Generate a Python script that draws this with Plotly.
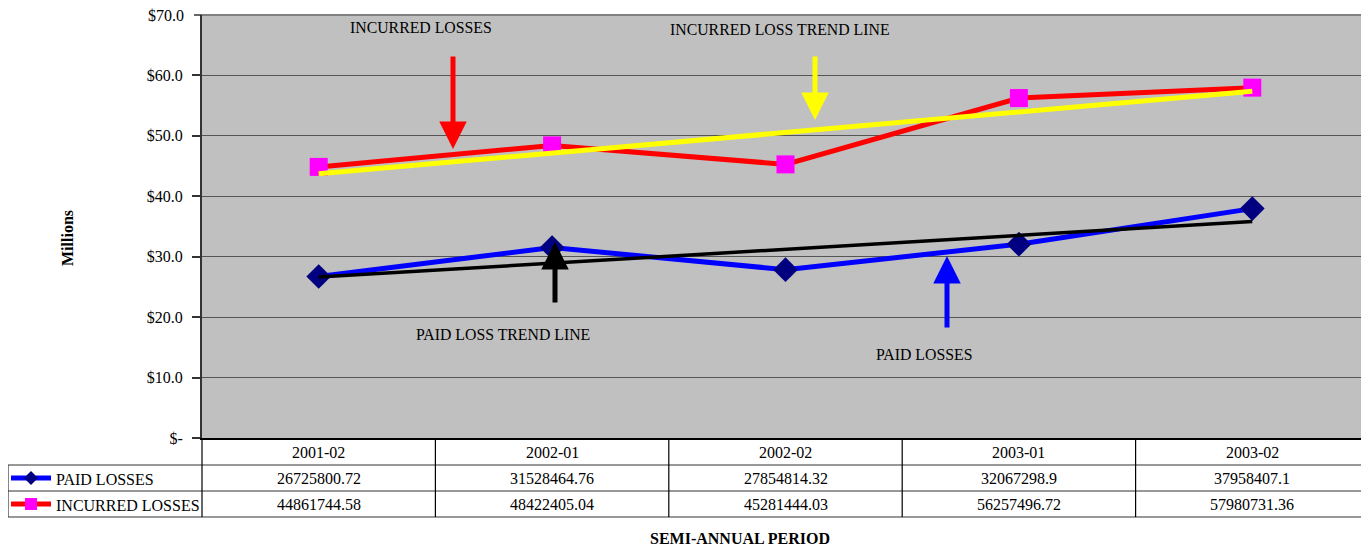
import numpy as np
import plotly.graph_objects as go

categories = ["2001-02", "2002-01", "2002-02", "2003-01", "2003-02"]
paid_losses = [26725800.72, 31528464.76, 27854814.32, 32067298.9, 37958407.1]
incurred_losses = [44861744.58, 48422405.04, 45281444.03, 56257496.72, 57980731.36]
tick_vals = [0, 10, 20, 30, 40, 50, 60, 70]
tick_text = ["$-", "$10.0", "$20.0", "$30.0", "$40.0", "$50.0", "$60.0", "$70.0"]

# page body margin offsets the figure by 8px
OFF = 8
W, H = 1369 - OFF, 548 - OFF
L, T = 202, 15  # plot area in screen coordinates
PW, PH = 1167, 423
FONT = "Liberation Serif"

xs = np.arange(1, len(categories) + 1)
paid_m = np.array(paid_losses) / 1e6
inc_m = np.array(incurred_losses) / 1e6
paid_fit = np.polyval(np.polyfit(xs, paid_m, 1), xs)
inc_fit = np.polyval(np.polyfit(xs, inc_m, 1), xs)


def px_x(px):
    return (px - L) / PW


def px_y(py):
    return (T + PH - py) / PH


fig = go.Figure()
fig.add_trace(go.Scatter(x=xs, y=paid_m, mode="lines+markers", name="PAID LOSSES",
                         line=dict(color="#0000FF", width=5),
                         marker=dict(symbol="diamond", size=19, color="#000080")))
fig.add_trace(go.Scatter(x=xs, y=inc_m, mode="lines+markers", name="INCURRED LOSSES",
                         line=dict(color="#FF0000", width=5),
                         marker=dict(symbol="square", size=18, color="#FF00FF")))
fig.add_trace(go.Scatter(x=xs, y=paid_fit, mode="lines", name="PAID LOSS TREND LINE",
                         line=dict(color="#000000", width=3.5)))
fig.add_trace(go.Scatter(x=xs, y=inc_fit, mode="lines", name="INCURRED LOSS TREND LINE",
                         line=dict(color="#FFFF00", width=5)))

shapes = []
annotations = []
grid_col = "#333333"

# table lines
for yy in [465, 491, 517]:
    shapes.append(dict(type="line", xref="paper", yref="paper", x0=px_x(8), x1=1,
                       y0=px_y(yy), y1=px_y(yy), line=dict(color=grid_col, width=1.2)))
for k in range(len(categories) + 1):
    xk = k / len(categories)
    shapes.append(dict(type="line", xref="paper", yref="paper", x0=xk, x1=xk,
                       y0=px_y(438), y1=px_y(517), line=dict(color="#000000", width=1.2)))
shapes.append(dict(type="line", xref="paper", yref="paper", x0=px_x(8), x1=px_x(8),
                   y0=px_y(465), y1=px_y(517), line=dict(color=grid_col, width=1.2)))
# top border of plot area and top tick
shapes.append(dict(type="line", xref="paper", yref="paper", x0=0, x1=1, y0=1, y1=1,
                   line=dict(color="#808080", width=2)))
shapes.append(dict(type="line", xref="paper", yref="paper", x0=px_x(194), x1=0, y0=1, y1=1,
                   line=dict(color="#333333", width=1.5)))

# legend keys in table
for row_y, lc, mc, sym in [(478, "#0000FF", "#000080", "diamond"), (504, "#FF0000", "#FF00FF", "square")]:
    shapes.append(dict(type="line", xref="paper", yref="paper", x0=px_x(11), x1=px_x(51),
                       y0=px_y(row_y), y1=px_y(row_y), line=dict(color=lc, width=5)))
    if sym == "diamond":
        path = "M 0 -7 L 7 0 L 0 7 L -7 0 Z"
    else:
        path = "M -6 -6 L 6 -6 L 6 6 L -6 6 Z"
    shapes.append(dict(type="path", xref="paper", yref="paper", xsizemode="pixel",
                       ysizemode="pixel", xanchor=px_x(31), yanchor=px_y(row_y), path=path,
                       fillcolor=mc, line=dict(color=mc, width=0)))

table_font = dict(family=FONT, size=16, color="#000000")
for i, c in enumerate(categories):
    annotations.append(dict(x=xs[i], y=px_y(452), xref="x", yref="paper", text=c,
                            xanchor="center", yanchor="middle", showarrow=False, font=table_font))
    annotations.append(dict(x=xs[i], y=px_y(478.5), xref="x", yref="paper",
                            text=str(paid_losses[i]), xanchor="center", yanchor="middle",
                            showarrow=False, font=table_font))
    annotations.append(dict(x=xs[i], y=px_y(504.5), xref="x", yref="paper",
                            text=str(incurred_losses[i]), xanchor="center", yanchor="middle",
                            showarrow=False, font=table_font))
annotations.append(dict(x=px_x(54), y=px_y(479), xref="paper", yref="paper", text="PAID LOSSES",
                        xanchor="left", yanchor="middle", showarrow=False, font=table_font))
annotations.append(dict(x=px_x(54), y=px_y(505), xref="paper", yref="paper",
                        text="INCURRED LOSSES", xanchor="left", yanchor="middle",
                        showarrow=False, font=table_font))

# top tick label (would be clipped as an axis label at the figure edge)
annotations.append(dict(x=px_x(186), y=1, xref="paper", yref="paper", text=tick_text[-1],
                        xanchor="right", yanchor="middle", showarrow=False,
                        font=dict(family=FONT, size=16, color="#000000")))

# titles
annotations.append(dict(x=px_x(740), y=px_y(538), xref="paper", yref="paper",
                        text="<b>SEMI-ANNUAL PERIOD</b>", xanchor="center", yanchor="middle",
                        showarrow=False, font=dict(family=FONT, size=16, color="#000000")))
annotations.append(dict(x=px_x(67), y=px_y(238), xref="paper", yref="paper",
                        text="<b>Millions</b>", textangle=-90, xanchor="center",
                        yanchor="middle", showarrow=False,
                        font=dict(family=FONT, size=16, color="#000000")))


def dx(px):
    return 0.5 + (px - L) / (PW / len(categories))


def dy(py):
    return (T + PH - py) / PH * 70


label_font = dict(family=FONT, size=15.8, color="#000000")
for text, cx, cy in [("INCURRED LOSSES", 421, 27), ("INCURRED LOSS TREND LINE", 780, 29),
                     ("PAID LOSS TREND LINE", 503, 334), ("PAID LOSSES", 924, 354)]:
    annotations.append(dict(x=dx(cx), y=dy(cy), xref="x", yref="y", text=text,
                            xanchor="center", yanchor="middle", showarrow=False, font=label_font))

for col, tx, tip, tail in [("#FF0000", 453, 149, 55), ("#FFFF00", 815, 120, 55),
                           ("#000000", 555, 242, 304), ("#0000FF", 947, 256, 329)]:
    annotations.append(dict(x=dx(tx), y=dy(tip), xref="x", yref="y", text="",
                            showarrow=True, ax=0, ay=tail - tip, arrowhead=2,
                            arrowsize=1.1, arrowwidth=5, arrowcolor=col, standoff=0))

fig.update_layout(
    width=W, height=H,
    margin=dict(l=L - OFF, r=W - (L - OFF) - PW, t=T - OFF, b=H - (T - OFF) - PH),
    paper_bgcolor="#FFFFFF", plot_bgcolor="#C0C0C0",
    showlegend=False,
    shapes=shapes, annotations=annotations,
    font=dict(family=FONT, size=15, color="#000000"),
)
fig.update_xaxes(range=[0.5, len(categories) + 0.5], showticklabels=False, showgrid=False,
                 zeroline=False, showline=True, linecolor="#000000", linewidth=1.5, ticks="")
fig.update_yaxes(range=[0, 70], tickvals=tick_vals[:-1], ticktext=tick_text[:-1], showgrid=True,
                 gridcolor="#555555", gridwidth=1.2, zeroline=False, showline=True,
                 linecolor="#333333", linewidth=2, ticks="outside", ticklen=8,
                 tickcolor="#333333", tickwidth=1.5, ticklabelstandoff=6,
                 tickfont=dict(family=FONT, size=16, color="#000000"))

fig.write_html("out.html")
